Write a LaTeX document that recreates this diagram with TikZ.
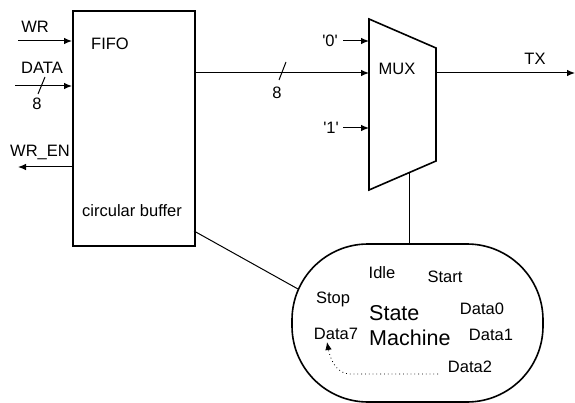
\documentclass[tikz,border=0pt]{standalone}
\usepackage{fontspec}
\setmainfont{Liberation Sans}
\usetikzlibrary{arrows.meta,calc}
\begin{document}
\begin{tikzpicture}[x=1pt,y=-1pt,
  lbl/.style={font=\fontsize{16.5}{19}\selectfont, inner sep=0pt},
  big/.style={font=\fontsize{21.5}{25}\selectfont, inner sep=0pt, align=left},
  wire/.style={line width=1pt},
  arr/.style={wire,-{Latex[length=8pt,width=6.5pt]}},
  blk/.style={draw, line width=1.6pt, line join=miter}]
\useasboundingbox (0,0) rectangle (575,403);
% FIFO
\node[blk, minimum width=122pt, minimum height=235pt, inner sep=0pt, anchor=north west] (fifo) at (72,10) {};
\node[lbl] (fifolbl) at (110,44) {FIFO};
\node[lbl] (cb) at (132,211) {circular buffer};
% inputs
\coordinate (wrin) at (18,41);
\draw[arr] (wrin) -- (wrin -| fifo.west);
\node[lbl] (wr) at (35,27) {WR};
\coordinate (datain) at (15,86);
\draw[arr] (datain) -- (datain -| fifo.west);
\node[lbl] (data) at (42,68) {DATA};
\coordinate (s1a) at (38,94); \coordinate (s1b) at (45,77);
\draw[wire] (s1a) -- (s1b);
\node[lbl] (d8) at (37,104) {8};
\coordinate (wrenout) at (18,167);
\draw[arr] (wrenout -| fifo.west) -- (wrenout);
\node[lbl] (wren) at (40,152) {WR\_EN};
% MUX
\coordinate (m1) at (369,19); \coordinate (m2) at (436,48);
\coordinate (m3) at (436,161); \coordinate (m4) at (369,190);
\draw[blk] (m1) -- (m2) -- (m3) -- (m4) -- cycle;
\node[lbl] (mux) at (397,69) {MUX};
\coordinate (muxin) at (369,73);
\draw[arr] (muxin -| fifo.east) -- (muxin);
\coordinate (s2a) at (279,80); \coordinate (s2b) at (286,62);
\draw[wire] (s2a) -- (s2b);
\node[lbl] (b8) at (277,93) {8};
\coordinate (in0) at (369,41); \coordinate (in0s) at (343,41);
\draw[arr] (in0s) -- (in0);
\node[lbl] (zero) at (330,41) {\textquotesingle0\textquotesingle};
\coordinate (in1) at (369,128); \coordinate (in1s) at (343,128);
\draw[arr] (in1s) -- (in1);
\node[lbl] (one) at (331,128) {\textquotesingle1\textquotesingle};
\coordinate (txs) at (436,73); \coordinate (txe) at (575,73);
\draw[arr] (txs) -- (txe);
\node[lbl] (tx) at (535,59) {TX};
% state machine
\node[blk, rounded corners=76pt, minimum width=251pt, minimum height=158pt, inner sep=0pt] (sm) at (417.5,323) {};
\coordinate (mbot) at ($(m4)!0.597!(m3)$);
\draw[wire] (mbot) -- (mbot |- sm.north);
\coordinate (fb) at (194,231); \coordinate (smw) at (298,289);
\draw[wire] (fb) -- (smw);
\node[lbl] (idle) at (382,273) {Idle};
\node[lbl] (start) at (445,277) {Start};
\node[lbl] (stop) at (333,299) {Stop};
\node[big, anchor=west] (state) at (369,313) {State};
\node[big, anchor=west] (machine) at (369,338) {Machine};
\node[lbl] (d0) at (482,309) {Data0};
\node[lbl] (d7) at (336,334) {Data7};
\node[lbl] (d1) at (491,335) {Data1};
\node[lbl] (d2) at (470,367) {Data2};
\coordinate (ds) at (438,374); \coordinate (de) at (327,342);
\draw[wire, line width=0.8pt, dash pattern=on 0.8pt off 3pt, -{Latex[length=8pt,width=6.5pt]}] (ds) -- (350,374) .. controls (336,374) and (330,358) .. (de);
\end{tikzpicture}
\end{document}
